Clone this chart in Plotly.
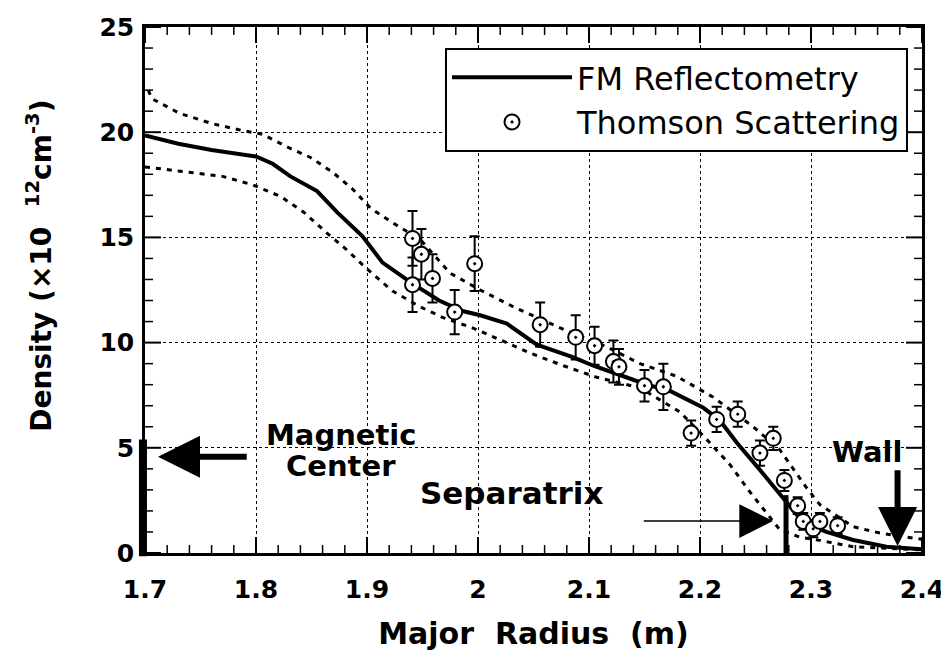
import plotly.graph_objects as go

# ---------------- data ----------------
fm_r = [1.700, 1.730, 1.760, 1.790, 1.800, 1.815, 1.831, 1.855, 1.873, 1.896,
        1.914, 1.941, 1.965, 1.986, 2.002, 2.026, 2.053, 2.086, 2.104, 2.131,
        2.152, 2.173, 2.203, 2.218, 2.233, 2.254, 2.277, 2.293, 2.314, 2.338,
        2.368, 2.400]
fm_d = [19.85, 19.45, 19.15, 18.95, 18.85, 18.5, 17.9, 17.2, 16.2, 15.05,
        13.8, 12.8, 12.0, 11.5, 11.3, 10.9, 9.9, 9.3, 8.9, 8.4,
        8.0, 7.7, 6.9, 6.3, 5.25, 3.95, 2.5, 1.45, 1.0, 0.62,
        0.3, 0.18]

upper_r = [1.703, 1.706, 1.731, 1.761, 1.786, 1.806, 1.828, 1.849, 1.869, 1.887,
           1.903, 1.923, 1.948, 1.975, 2.002, 2.032, 2.074, 2.116, 2.146, 2.179,
           2.212, 2.248, 2.272, 2.296, 2.308, 2.338, 2.362, 2.400]
upper_d = [22.0, 21.6, 20.9, 20.4, 20.1, 19.9, 19.3, 18.8, 18.1, 17.3,
           16.4, 15.7, 14.9, 13.3, 12.5, 11.7, 10.7, 9.8, 9.0, 8.4,
           7.4, 6.0, 4.9, 3.1, 2.3, 1.25, 0.95, 0.65]

lower_r = [1.700, 1.731, 1.770, 1.797, 1.822, 1.843, 1.864, 1.882, 1.900, 1.923,
           1.948, 1.968, 1.995, 2.017, 2.047, 2.077, 2.107, 2.146, 2.182, 2.206,
           2.227, 2.245, 2.260, 2.272, 2.290, 2.308, 2.338, 2.380, 2.400]
lower_d = [18.35, 18.15, 17.9, 17.5, 16.95, 16.2, 15.2, 14.4, 13.5, 12.45,
           11.7, 11.2, 10.7, 10.2, 9.5, 8.9, 8.35, 7.85, 6.7, 5.4,
           4.2, 2.9, 1.9, 1.1, 0.75, 0.6, 0.3, 0.2, 0.15]

ts_r = [1.941, 1.941, 1.949, 1.959, 1.979, 1.997, 2.056, 2.088, 2.105, 2.122,
        2.127, 2.150, 2.167, 2.192, 2.215, 2.234, 2.254, 2.266, 2.276, 2.288,
        2.293, 2.302, 2.308, 2.324]
ts_d = [14.95, 12.75, 14.2, 13.05, 11.45, 13.75, 10.85, 10.25, 9.85, 9.1,
        8.85, 7.95, 7.9, 5.7, 6.35, 6.6, 4.75, 5.45, 3.45, 2.25,
        1.5, 1.15, 1.5, 1.3]
ts_err = [1.3, 1.3, 1.2, 1.15, 1.05, 1.3, 1.05, 1.05, 0.9, 1.0,
          0.85, 0.75, 1.1, 0.6, 0.6, 0.6, 0.6, 0.55, 0.5, 0.4,
          0.4, 0.4, 0.4, 0.4]

x_tick_vals = [1.7, 1.8, 1.9, 2.0, 2.1, 2.2, 2.3, 2.4]
x_tick_text = ["1.7", "1.8", "1.9", "2", "2.1", "2.2", "2.3", "2.4"]
y_tick_vals = [0, 5, 10, 15, 20, 25]
y_tick_text = ["0", "5", "10", "15", "20", "25"]
minor_per_major = 5

# marker positions used by the annotations (radius, density)
separatrix_r = 2.2775
wall_r = 2.378

FONT = "DejaVu Sans"
X_RANGE = [1.7, 2.4]
Y_RANGE = [0, 25]
FIG_W, FIG_H = 941, 651
MARGIN = dict(l=137, r=27, t=19, b=106)
PLOT_W = FIG_W - MARGIN["l"] - MARGIN["r"]
PLOT_H = FIG_H - MARGIN["t"] - MARGIN["b"]

fig = go.Figure()

fig.add_trace(go.Scatter(x=upper_r, y=upper_d, mode="lines", showlegend=False,
                         line=dict(color="black", width=3, dash="5px,6px")))
fig.add_trace(go.Scatter(x=lower_r, y=lower_d, mode="lines", showlegend=False,
                         line=dict(color="black", width=3, dash="5px,6px")))
fig.add_trace(go.Scatter(x=fm_r, y=fm_d, mode="lines", name="FM Reflectometry",
                         line=dict(color="black", width=4)))
fig.add_trace(go.Scatter(x=ts_r, y=ts_d, mode="markers", name="Thomson Scattering",
                         marker=dict(symbol="circle-dot", size=15, color="white",
                                     line=dict(color="black", width=2)),
                         error_y=dict(type="data", array=ts_err, color="black",
                                      thickness=2, width=5)))


# inward tick marks on all four sides (major + minor), on the axes' own scales
def minor_positions(vals):
    out = []
    for a, b in zip(vals[:-1], vals[1:]):
        for k in range(1, minor_per_major):
            out.append(a + (b - a) * k / minor_per_major)
    return out


def tick_segments(xvals, yvals, length_px):
    dx = length_px * (X_RANGE[1] - X_RANGE[0]) / PLOT_W
    dy = length_px * (Y_RANGE[1] - Y_RANGE[0]) / PLOT_H
    xs, ys = [], []
    for v in xvals:
        xs += [v, v, None, v, v, None]
        ys += [Y_RANGE[0], Y_RANGE[0] + dy, None, Y_RANGE[1], Y_RANGE[1] - dy, None]
    for v in yvals:
        xs += [X_RANGE[0], X_RANGE[0] + dx, None, X_RANGE[1], X_RANGE[1] - dx, None]
        ys += [v, v, None, v, v, None]
    return xs, ys


mx, my = tick_segments(x_tick_vals, y_tick_vals, 16)
fig.add_trace(go.Scatter(x=mx, y=my, mode="lines", showlegend=False, hoverinfo="skip",
                         line=dict(color="black", width=2)))
nx, ny = tick_segments(minor_positions(x_tick_vals), minor_positions(y_tick_vals), 8)
fig.add_trace(go.Scatter(x=nx, y=ny, mode="lines", showlegend=False, hoverinfo="skip",
                         line=dict(color="black", width=1.5)))

axis_common = dict(
    showline=True, linecolor="black", linewidth=2.5, mirror=True,
    ticks="",
    showgrid=True, gridcolor="black", gridwidth=1.2, griddash="dot",
    zeroline=False,
)

fig.update_xaxes(
    range=X_RANGE, tickvals=x_tick_vals, ticktext=x_tick_text,
    ticklabelstandoff=12,
    tickfont=dict(family=FONT, size=25, color="black", weight="bold"),
    title=dict(text="Major  Radius  (m)", standoff=21,
               font=dict(family=FONT, size=30, color="black", weight="bold")),
    **axis_common)
fig.update_yaxes(
    range=Y_RANGE, tickvals=y_tick_vals, ticktext=y_tick_text,
    ticklabelstandoff=3,
    tickfont=dict(family=FONT, size=25, color="black", weight="bold"),
    title=dict(text="&nbsp;&nbsp;&nbsp;&nbsp;&nbsp;Density (×10  <sup>12</sup>cm<sup>-3</sup>)",
               standoff=40,
               font=dict(family=FONT, size=28, color="black", weight="bold")),
    **axis_common)

# vertical marker bars
fig.add_shape(type="line", xref="paper", yref="paper",
              x0=-0.0026, x1=-0.0026, y0=-0.006, y1=5.4 / 25,
              line=dict(color="black", width=8))
fig.add_shape(type="line", xref="x", yref="y",
              x0=separatrix_r, x1=separatrix_r, y0=0, y1=2.75,
              line=dict(color="black", width=5))

ann_font = dict(family=FONT, size=29, color="black", weight="bold")
# text labels
fig.add_annotation(x=1.8766, y=5.62, text="Magnetic", showarrow=False, font=ann_font)
fig.add_annotation(x=1.8766, y=4.14, text="Center", showarrow=False, font=ann_font)
fig.add_annotation(x=2.0306, y=2.86, text="Separatrix", showarrow=False,
                   font=dict(family=FONT, size=31, color="black", weight="bold"))
fig.add_annotation(x=2.3505, y=4.81, text="Wall", showarrow=False, font=ann_font)

# arrows
fig.add_annotation(x=1.7117, y=4.57, ax=1.793, ay=4.57, axref="x", ayref="y",
                   xref="x", yref="y", text="", showarrow=True,
                   arrowhead=2, arrowwidth=6, arrowsize=1.4, arrowcolor="black")
fig.add_annotation(x=2.2658, y=1.52, ax=2.148, ay=1.52, axref="x", ayref="y",
                   xref="x", yref="y", text="", showarrow=True,
                   arrowhead=2, arrowwidth=1.5, arrowsize=4.5, arrowcolor="black")
fig.add_annotation(x=wall_r, y=0.33, ax=wall_r, ay=4.0, axref="x", ayref="y",
                   xref="x", yref="y", text="", showarrow=True,
                   arrowhead=2, arrowwidth=6, arrowsize=1.3, arrowcolor="black")

fig.update_layout(
    template="none",
    width=FIG_W, height=FIG_H,
    margin=MARGIN,
    plot_bgcolor="white", paper_bgcolor="white",
    font=dict(family=FONT, color="black"),
    legend=dict(x=0.982, xanchor="right", y=0.96, yanchor="top",
                bgcolor="white", bordercolor="black", borderwidth=2,
                font=dict(family=FONT, size=32, color="black"),
                itemwidth=120, tracegroupgap=0),
)

fig.write_html("out.html")
